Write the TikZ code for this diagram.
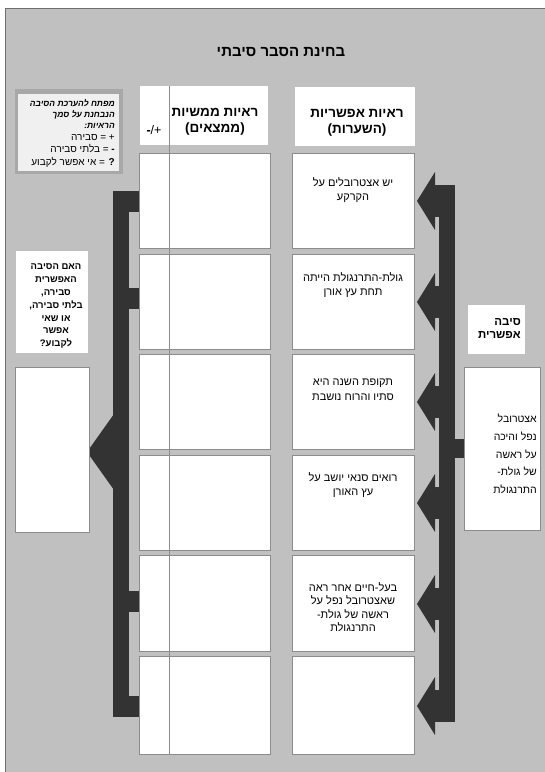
\documentclass[tikz,border=0pt]{standalone}
\usepackage{fontspec}
\setmainfont{Liberation Sans}
\newfontfamily\hebfont[Script=Hebrew]{Liberation Sans}
\TeXXeTstate=1
\newcommand\heb[1]{\beginR #1\endR}
\definecolor{bgc}{HTML}{C0C0C0}
\definecolor{dkc}{HTML}{333333}
\definecolor{bdc}{HTML}{8C8C8C}
\definecolor{frc}{HTML}{6E6E6E}
\definecolor{lgc}{HTML}{A8A8A8}
\definecolor{ltc}{HTML}{F0F0F0}
\tikzset{
  wbox/.style={draw=bdc, fill=white, line width=0.9pt, inner sep=0pt, anchor=north west},
  plain/.style={fill=white, inner sep=0pt, anchor=north west},
  txt/.style={font=\hebfont\fontsize{11}{14.5}\selectfont, align=center, inner sep=0pt, anchor=north},
  hdr/.style={font=\hebfont\bfseries\fontsize{13.5}{16}\selectfont, align=center, inner sep=0pt},
  dk/.style={fill=dkc}
}
\begin{document}
\begin{tikzpicture}[x=1pt,y=-1pt]
\useasboundingbox (0,0) rectangle (545,772);
\fill[white] (0,0) rectangle (545,772);
\filldraw[fill=bgc, draw=frc, line width=1pt] (5,8.5) rectangle (550,780);

% title
\node[font=\hebfont\bfseries\fontsize{15}{17}\selectfont, inner sep=0pt] (title) at (281,52) {\heb{בחינת הסבר סיבתי}};

% legend
\fill[lgc] (15,89) rectangle (123,174);
\fill[ltc] (18,94) rectangle (119,171);
\node[font=\hebfont\bfseries\itshape\fontsize{8.5}{11}\selectfont, align=right, inner sep=0pt, anchor=north east] (key) at (115,99)
  {\heb{מפתח להערכת הסיבה}\\ \heb{הנבחנת על סמך}\\ \heb{הראיות:}};
\node[font=\hebfont\fontsize{10}{12.5}\selectfont, align=right, inner sep=0pt, anchor=north east] (keyv) at (115,134)
  {\heb{+ = סבירה}\\ \heb{{\bfseries -} = בלתי סבירה}\\ \heb{{\bfseries ?} = אי אפשר לקבוע}};

% dark connectors (right)
\fill[dk] (439,185) rectangle (455,722);
\fill[dk] (454,439) rectangle (466,458);
\foreach \c in {201,302,402,503,604,706} {
  \fill[dk] (433,\c-16) rectangle (440,\c+16);
  \fill[dk] (417,\c) -- (435,\c-29) -- (435,\c+29) -- cycle;
}
% dark connectors (left)
\fill[dk] (113,191) rectangle (129,717);
\fill[dk] (113,191) rectangle (140,212);
\fill[dk] (128,288) rectangle (140,309);
\fill[dk] (128,591) rectangle (140,612);
\fill[dk] (113,696) rectangle (140,717);
\fill[dk] (87,452) -- (114,414) -- (114,490) -- cycle;

% headers
\node[plain, minimum width=128pt, minimum height=59pt] (fh) at (140,86) {};
\node[plain, minimum width=120pt, minimum height=59pt] (hh) at (295,87) {};
\node[hdr, anchor=north] (fht) at (215,108) {\heb{ראיות ממשיות}\\ \heb{(ממצאים)}};
\node[hdr, anchor=north] (hht) at (357,109) {\heb{ראיות אפשריות}\\ \heb{(השערות)}};
\node[font=\fontsize{12.5}{14}\selectfont, inner sep=0pt] (pm) at (154,130) {{\bfseries -}/+};

% finding boxes
\foreach \i/\t/\h in {1/153/95,2/254/95,3/354/95,4/455/95,5/555/96,6/656/98} {
  \node[wbox, minimum width=131pt, minimum height=\h pt] (f\i) at (139,\t) {};
  \node[wbox, minimum width=122pt, minimum height=\h pt] (h\i) at (292,\t) {};
}
\draw[bdc, line width=0.8pt] (169,86) -- (169,754);

% hypothesis texts
\node[txt] (t1) at (353,177) {\heb{יש אצטרובלים על}\\ \heb{הקרקע}};
\node[txt] (t2) at (353,272) {\heb{גולת-התרנגולת הייתה}\\ \heb{תחת עץ אורן}};
\node[txt] (t3) at (353,379) {\heb{תקופת השנה היא}\\ \heb{סתיו והרוח נושבת}};
\node[txt] (t4) at (353,472) {\heb{רואים סנאי יושב על}\\ \heb{עץ  האורן}};
\node[txt, font=\hebfont\fontsize{11}{13.5}\selectfont] (t5) at (353,582) {\heb{בעל-חיים אחר ראה}\\ \heb{שאצטרובל נפל על}\\ \heb{ראשה של  גולת-}\\ \heb{התרנגולת}};

% cause
\node[plain, minimum width=57pt, minimum height=49pt] (ch) at (468,305) {};
\node[font=\hebfont\bfseries\fontsize{11.5}{13}\selectfont, align=right, inner sep=0pt, anchor=north east] (cht) at (521,318) {\heb{סיבה}\\ \heb{אפשרית}};
\node[wbox, minimum width=76pt, minimum height=163pt] (cb) at (464,367) {};
\node[font=\hebfont\fontsize{10.5}{17.7}\selectfont, align=right, inner sep=0pt, anchor=north east] (cbt) at (537,414)
  {\heb{אצטרובל}\\ \heb{נפל והיכה}\\ \heb{על ראשה}\\ \heb{של גולת-}\\ \heb{התרנגולת}};

% result
\node[plain, minimum width=72pt, minimum height=102pt] (qh) at (16,251) {};
\node[font=\hebfont\bfseries\fontsize{9.5}{12.8}\selectfont, align=center, inner sep=0pt, anchor=north] (qt) at (56,264)
  {\heb{האם הסיבה}\\ \heb{האפשרית}\\ \heb{סבירה,}\\ \heb{בלתי סבירה,}\\ \heb{או שאי}\\ \heb{אפשר}\\ \heb{לקבוע?}};
\node[wbox, minimum width=74pt, minimum height=165pt] (rb) at (15,367) {};
\end{tikzpicture}
\end{document}
